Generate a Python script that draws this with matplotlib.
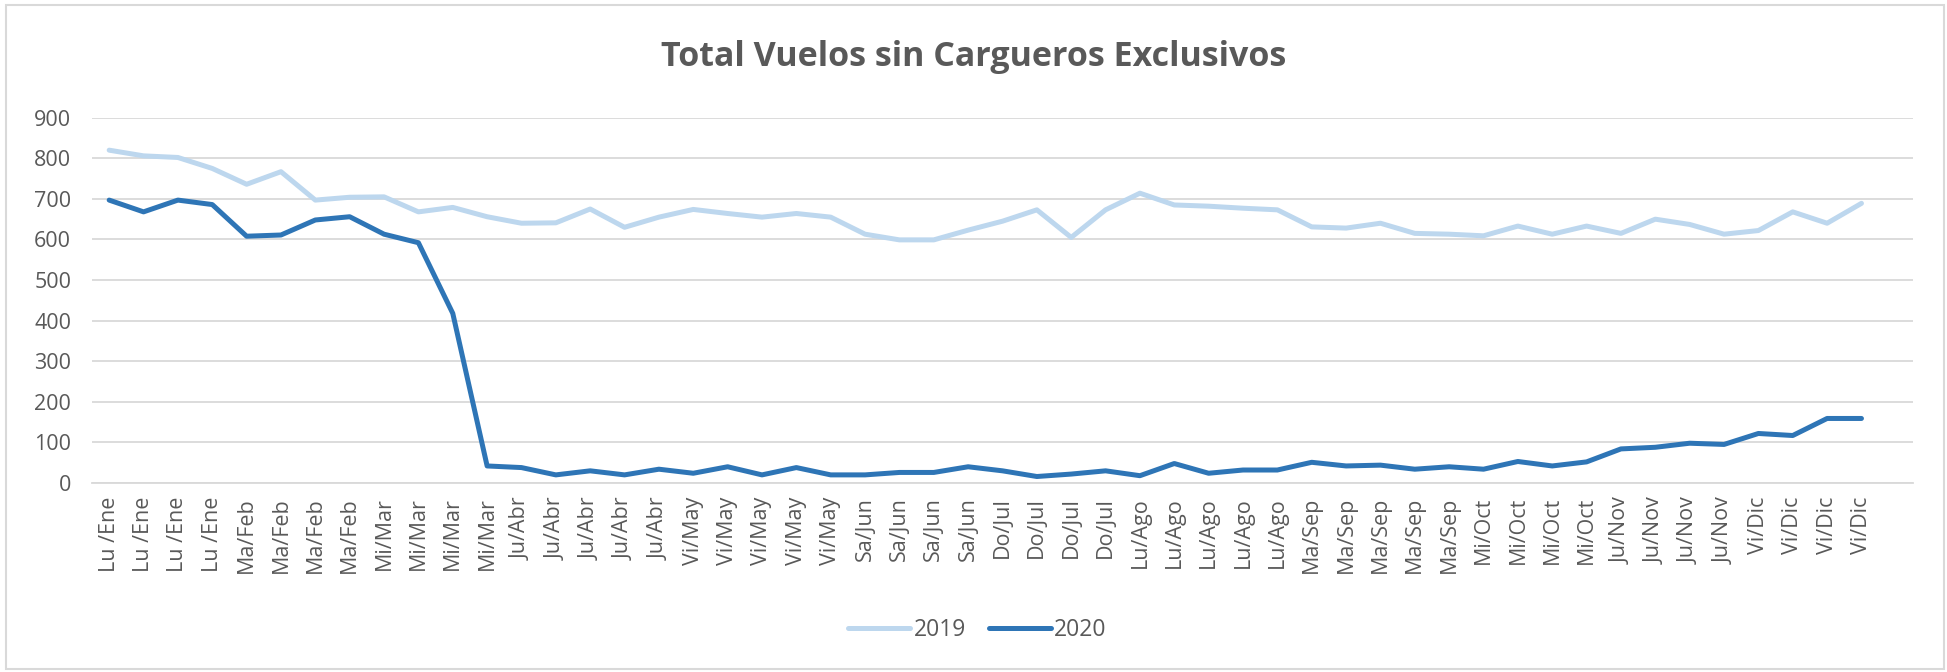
import matplotlib
matplotlib.use("Agg")
import matplotlib.pyplot as plt
from matplotlib.patches import Rectangle

labels = (["Lu /Ene"] * 4 + ["Ma/Feb"] * 4 + ["Mi/Mar"] * 4 + ["Ju/Abr"] * 5 +
          ["Vi/May"] * 5 + ["Sa/Jun"] * 4 + ["Do/Jul"] * 4 + ["Lu/Ago"] * 5 +
          ["Ma/Sep"] * 5 + ["Mi/Oct"] * 4 + ["Ju/Nov"] * 4 + ["Vi/Dic"] * 4)

vuelos_2019 = [820, 806, 802, 775, 736, 767, 697, 704, 705, 668, 679, 656,
               640, 641, 675, 630, 655, 674, 664, 655, 664, 655, 613, 599,
               599, 623, 645, 673, 605, 673, 714, 685, 682, 677, 673, 631,
               628, 640, 615, 613, 609, 633, 613, 633, 615, 650, 637, 613,
               622, 668, 640, 689]

vuelos_2020 = [697, 668, 697, 686, 608, 611, 648, 656, 613, 592, 418, 42,
               38, 20, 30, 20, 34, 24, 40, 20, 38, 20, 20, 26,
               26, 40, 30, 16, 22, 30, 18, 48, 24, 32, 32, 51,
               42, 44, 34, 40, 34, 53, 42, 52, 84, 88, 98, 95,
               122, 117, 159, 159]

yticks = [0, 100, 200, 300, 400, 500, 600, 700, 800, 900]
title = "Total Vuelos sin Cargueros Exclusivos"

W, H = 1947, 672
fig = plt.figure(figsize=(W / 100, H / 100), dpi=100)
fig.patch.set_facecolor("white")

# outer chart border
fig.add_artist(Rectangle((6 / W, 3 / H), 1938 / W, 664 / H, transform=fig.transFigure,
                         fill=False, edgecolor="#D9D9D9", linewidth=1.5))

ax = fig.add_axes([92 / W, 1 - 483 / H, (1913 - 92) / W, (483 - 117.7) / H])
x = list(range(len(labels)))
ax.plot(x, vuelos_2019, color="#BDD7EE", linewidth=3.6, label="2019",
        solid_joinstyle="round", solid_capstyle="round", zorder=3)
ax.plot(x, vuelos_2020, color="#2E75B6", linewidth=3.6, label="2020",
        solid_joinstyle="round", solid_capstyle="round", zorder=4)

ax.set_xlim(-0.5, len(labels) + 0.5)
ax.set_ylim(0, 900)
ax.set_yticks(yticks)
ax.set_xticks(x)
ax.set_xticklabels(labels, rotation=90)
ax.grid(axis="y", color="#D9D9D9", linewidth=1.3)
ax.set_axisbelow(True)
for s in ["top", "right", "left"]:
    ax.spines[s].set_visible(False)
ax.spines["bottom"].set_color("#D9D9D9")
ax.spines["bottom"].set_linewidth(1.3)
ax.tick_params(axis="both", length=0, colors="#595959", labelsize=15.5)
ax.tick_params(axis="y", pad=15)
ax.tick_params(axis="x", pad=10)
for lab in ax.get_xticklabels() + ax.get_yticklabels():
    lab.set_fontfamily("Open Sans")

fig.text(0.5, 1 - 57 / H, title, ha="center", va="center", fontsize=24.5,
         fontweight="bold", color="#595959", family="Open Sans")

leg = fig.legend(loc="center", bbox_to_anchor=(0.502, 1 - 630 / H), ncol=2,
                 frameon=False, prop={"family": "Open Sans", "size": 16.5},
                 handlelength=2.7, handletextpad=0.15, columnspacing=1.0)
for t in leg.get_texts():
    t.set_color("#595959")

fig.savefig("out.png", dpi=100, facecolor="white")
